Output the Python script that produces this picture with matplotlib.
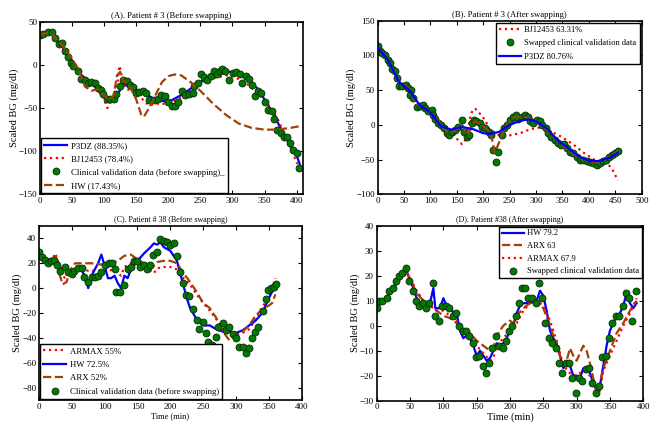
import matplotlib
matplotlib.use("Agg")
import matplotlib.pyplot as plt

plt.rcParams['font.family'] = ['Liberation Serif', 'DejaVu Serif']
plt.rcParams['font.size'] = 7

# ---------------- Panel A: Patient 3 before swapping ----------------
a_data_t = [0, 5, 12, 19, 23, 29, 34, 39, 44, 48, 52, 59, 64, 70, 75, 80, 85, 90, 95, 98,
            104, 109, 115, 119, 124, 129, 136, 140, 145, 150, 155, 161, 166, 170, 177, 184,
            189, 195, 200, 205, 210, 215, 221, 226, 232, 238, 240, 246, 251, 256, 261, 266,
            271, 276, 281, 284, 289, 295, 301, 306, 311, 315, 321, 326, 331, 335, 340, 345,
            350, 355, 361, 365, 370, 376, 381, 385, 390, 395, 400, 404]
a_data_y = [35, 36, 38, 38, 31, 24, 25, 16, 9, 2, -1, -7, -16, -17, -21, -20, -21, -27, -29, -34,
            -39, -39, -40, -34, -24, -18, -19, -23, -26, -33, -31, -30, -32, -41, -41, -40,
            -35, -36, -43, -48, -48, -43, -30, -35, -34, -33, -24, -21, -11, -14, -18, -13,
            -7, -10, -7, -5, -7, -18, -9, -8, -11, -21, -13, -16, -23, -36, -30, -32,
            -43, -52, -53, -63, -75, -79, -83, -84, -90, -99, -102, -119]
a_p3dz_t = [0, 15, 30, 50, 65, 80, 100, 110, 120, 130, 140, 160, 180, 200, 220, 240, 260, 280,
            300, 320, 340, 360, 380, 400, 405]
a_p3dz_y = [35, 38, 26, 5, -12, -22, -34, -41, -35, -23, -25, -32, -40, -43, -35, -25, -15, -8,
            -8, -14, -28, -52, -80, -105, -115]
a_bj_t = [0, 15, 30, 50, 65, 80, 95, 105, 112, 120, 124, 128, 135, 145, 160, 170, 180, 200,
          215, 240, 260, 290, 300, 320, 340, 360, 370, 380, 390, 400, 405]
a_bj_y = [35, 38, 26, 5, -12, -22, -30, -50, -40, -25, -1, -15, -28, -30, -40, -47, -45, -45,
          -40, -27, -17, -12, -13, -20, -33, -50, -62, -78, -95, -113, -118]
a_hw_t = [0, 10, 20, 40, 60, 70, 80, 90, 100, 110, 115, 120, 125, 130, 140, 150, 158, 162,
          170, 180, 190, 200, 210, 220, 235, 250, 270, 290, 310, 330, 350, 370, 390, 405]
a_hw_y = [35, 37, 35, 18, -5, -25, -30, -28, -36, -40, -35, -12, -8, -18, -25, -40, -58, -60,
          -50, -35, -20, -13, -11, -12, -20, -30, -45, -58, -68, -73, -75, -75, -73, -71]

# ---------------- Panel B: Patient 3 after swapping ----------------
b_data_t = [0, 4, 9, 14, 19, 23, 28, 33, 36, 40, 47, 54, 58, 63, 61, 67, 74, 80, 85, 90, 96,
            102, 105, 109, 115, 120, 125, 131, 135, 140, 146, 153, 159, 164, 169, 173, 178,
            183, 187, 194, 198, 203, 210, 214, 219, 224, 228, 235, 240, 244, 251, 257, 262,
            266, 273, 279, 284, 289, 295, 301, 307, 312, 318, 323, 329, 336, 342, 348, 353,
            358, 364, 370, 377, 383, 389, 396, 402, 408, 415, 421, 427, 432, 438, 443, 449, 455]
b_data_y = [113, 107, 104, 101, 93, 89, 80, 77, 67, 56, 56, 57, 53, 50, 43, 38, 26, 27, 29, 24,
            20, 21, 14, 8, 2, 0, -5, -11, -15, -10, -8, -3, 7, -10, -17, -15, 2,
            7, 6, 2, -3, -5, -10, -15, -36, -54, -39, -15, -5, 0, 7, 12, 14,
            9, 12, 14, 12, 6, 3, 7, 5, 0, -5, -12, -17, -22, -26, -29, -27,
            -34, -39, -41, -46, -50, -50, -52, -53, -55, -58, -55, -52, -50, -46, -43, -41, -37]
b_bj_t = [0, 20, 40, 60, 80, 100, 120, 140, 150, 160, 168, 175, 180, 185, 195, 205, 210, 220,
          230, 250, 270, 290, 300, 310, 330, 350, 370, 390, 410, 425, 435, 445, 455]
b_bj_y = [112, 93, 58, 48, 27, 18, 0, -10, -20, -28, -20, 10, 22, 23, 15, 5, -5, -10,
          -15, -15, -12, -6, -5, -3, -10, -18, -28, -40, -50, -52, -55, -65, -80]
b_p3dz_t = [0, 20, 40, 60, 80, 100, 120, 140, 160, 180, 200, 215, 230, 250, 270, 285, 300,
            320, 340, 360, 380, 400, 420, 440, 455]
b_p3dz_y = [112, 93, 62, 50, 28, 18, -2, -7, -3, -6, -12, -13, -10, 0, 6, 8, 5,
            -5, -22, -33, -45, -52, -52, -47, -40]
b_hw_t = [0, 14, 28, 40, 54, 63, 74, 90, 105, 120, 135, 153, 160, 168, 175, 183, 194, 205,
          214, 222, 230, 240, 255, 270, 285, 300, 315, 330, 345, 360, 380, 400, 420, 440, 455]
b_hw_y = [112, 101, 82, 62, 56, 50, 30, 24, 15, 0, -12, -5, 0, -13, -8, 5, 2, -5,
          -12, -40, -25, -5, 10, 12, 10, 4, -3, -16, -27, -36, -47, -53, -54, -45, -38]

# ---------------- Panel C: Patient 38 before swapping ----------------
c_data_t = [0, 4, 9, 14, 18, 23, 28, 32, 39, 44, 50, 53, 60, 65, 69, 74, 80, 85, 90, 94, 101,
            106, 111, 115, 118, 124, 130, 135, 140, 144, 149, 154, 160, 164, 169, 174, 179,
            185, 190, 195, 200, 205, 210, 214, 219, 224, 229, 234, 240, 244, 249, 254, 258,
            263, 270, 273, 280, 285, 290, 295, 300, 305, 310, 315, 320, 324, 329, 334, 341,
            345, 349, 354, 358, 361]
c_data_y = [29, 25, 23, 20, 22, 23, 19, 14, 17, 13, 11, 14, 16, 16, 9, 5, 9, 9, 10, 13, 19,
            20, 20, 15, -3, -3, 2.5, 15, 17, 22, 22, 17, 19, 15, 19, 27, 29,
            39.5, 38, 37, 35, 36, 26, 13, 4, -5.5, -6, -16.5, -26, -33, -27, -36, -43,
            -46, -39, -31.5, -28, -34, -31, -37, -40, -47, -47, -52, -48, -40, -35.5, -31, -18,
            -9, -1.5, 0, 1, 3]
c_hw_t = [0, 10, 20, 25, 30, 35, 40, 50, 60, 65, 70, 75, 80, 85, 90, 95, 100, 105, 110, 115,
          120, 125, 130, 135, 140, 150, 160, 170, 175, 180, 185, 190, 200, 210, 215, 220, 225,
          230, 240, 250, 260, 270, 280, 290, 300, 310, 320, 330, 340, 350, 360]
c_hw_y = [28, 23, 22, 24, 18, 15, 15, 14, 15, 14, 10, 0, 10, 15, 20, 27, 18, 8, 8, 10,
          4, 0, 10, 8, 15, 22, 28, 33, 36, 35, 37, 33, 30, 22, 12, 2, -8,
          -16, -25, -30, -30, -33, -35, -35, -36, -34, -30, -26, -20, -8, 2]
c_armax_t = [0, 10, 20, 25, 30, 35, 40, 45, 55, 60, 65, 75, 85, 95, 105, 115, 120, 125, 130,
             140, 150, 160, 170, 175, 180, 190, 200, 210, 220, 230, 240, 250, 260, 270, 280,
             290, 300, 310, 320, 330, 340, 350, 360]
c_armax_y = [28, 24, 23, 28, 20, 10, 8, 14, 14, 16, 15, 14, 14, 14, 14, 15, 12, 10, 17,
             20, 22, 18, 14, 12, 16, 17, 17, 15, 8, 3, -5, -12, -18, -25, -32,
             -38, -38, -36, -33, -25, -15, -8, 8]
c_arx_t = [0, 10, 20, 27, 32, 36, 42, 48, 55, 65, 80, 95, 110, 120, 130, 140, 150, 160, 170,
           180, 190, 200, 210, 220, 230, 240, 250, 260, 270, 280, 290, 300, 310, 320, 330,
           340, 350, 355, 360]
c_arx_y = [28, 22, 22, 23, 10, 3, 5, 15, 20, 20, 20, 19, 20, 22, 26, 27, 23, 20, 15,
           21, 22, 22, 20, 12, 5, -3, -12, -16, -24, -35, -42, -38, -35, -30, -22,
           -17, -14, -12, -5]

# ---------------- Panel D: Patient 38 after swapping ----------------
d_data_t = [0, 4, 8.5, 15, 19, 25, 29, 34, 38.5, 44, 49, 54, 58.5, 64, 69, 74, 79, 84, 87.5,
            94, 98.5, 104, 109, 114, 119, 124, 129, 134, 139, 144, 148.5, 154, 159, 164, 169,
            173.5, 179, 183.5, 189, 194, 199, 203.5, 208.5, 213.5, 218.5, 222.5, 227.5, 232.5,
            238.5, 243.5, 248.5, 253, 258, 263, 268.5, 273.5, 278.5, 283.5, 288.5, 293.5,
            298.5, 303.5, 308.5, 313.5, 318.5, 322.5, 328.5, 333.5, 338.5, 343.5, 348.5, 353,
            358.5, 363.5, 369, 373.5, 378.5, 383.5, 388.5]
d_data_y = [7, 10, 10, 11, 14, 15, 18, 20, 21, 23, 18, 14, 10, 8, 9, 7, 9, 17, 4,
            2, 8, 8, 7, 4, 5, 0, -2, -2, -4, -7, -12.5, -12, -16, -19, -15,
            -9, -4, -8, -9, -6, -2, 0, 4, 9, 15, 15, 11, 11,
            9, 17, 11, 1, -5, -7, -9, -15, -19, -15, -15, -21,
            -27, -21, -22, -17.5, -17, -23, -27, -24, -12.5, -12, -5, 1,
            4, 4, 8, 13, 11, 2, 14]
d_hw_t = [0, 5, 10, 15, 20, 25, 30, 35, 40, 45, 50, 55, 60, 65, 70, 75, 80, 85, 88, 95, 100,
          105, 110, 115, 120, 125, 130, 135, 140, 145, 150, 155, 160, 165, 170, 175, 180, 185,
          190, 195, 200, 205, 210, 215, 220, 230, 240, 245, 250, 255, 260, 265, 270, 275, 280,
          285, 290, 295, 300, 305, 310, 315, 320, 325, 330, 335, 340, 345, 350, 355, 360, 365,
          370, 375, 380, 385, 390]
d_hw_y = [7, 10, 10, 11, 14, 15, 18, 20, 21, 22, 18, 15, 11, 9, 9, 8, 9, 15, 7, 7, 11,
          8, 8, 5, 5, -2, -5, -4, -5, -8, -12, -10, -12, -14, -13, -10, -7, -8,
          -7, -5, -2, 0, 5, 8, 9, 9, 10, 14, 12, 6, -2, -5, -7, -12, -17,
          -15, -16, -20, -20, -21, -17, -17, -19, -23, -26, -24, -16, -8, -2, 1, 4, 5,
          8, 13, 9, 7, 9]
d_arx_t = [0, 10, 20, 30, 40, 45, 50, 60, 70, 80, 90, 100, 110, 120, 130, 140, 150, 160, 170,
           175, 180, 190, 200, 205, 210, 220, 230, 240, 250, 260, 270, 280, 285, 290, 295,
           300, 305, 310, 315, 320, 325, 330, 335, 340, 350, 360, 370, 380, 390]
d_arx_y = [7, 10, 13, 17, 21, 21, 19, 13, 10, 8, 6, 4, 3, 1, -1, -3, -6, -8, -10,
           -9, -4, 0, 2, 1, 4, 7, 9, 10, 7, 0, -8, -16, -14, -9, -12,
           -14, -11, -8, -10, -15, -21, -27, -23, -17, -10, -3, 1, 6, 10]
d_armax_t = [0, 10, 20, 30, 40, 45, 50, 60, 70, 80, 90, 100, 110, 120, 130, 140, 150, 160,
             170, 175, 180, 190, 200, 210, 220, 230, 240, 250, 260, 270, 280, 290, 300, 310,
             320, 325, 330, 335, 340, 350, 360, 370, 380, 390]
d_armax_y = [7, 10, 13, 17, 20, 21, 19, 14, 10, 8, 6, 6, 4, 2, -2, -4, -8, -11,
             -14, -13, -8, -5, -2, 1, 6, 9, 10, 8, 2, -6, -16, -19, -20, -18,
             -20, -22, -27, -26, -18, -12, -6, 0, 5, 11]

# ---------------- styles ----------------
BLUE = '#0000ff'
RED = '#ff0000'
BROWN = '#a0400a'
GREEN = '#007a00'
LW = 1.6
mk = dict(linestyle='none', marker='o', markersize=5.0, markerfacecolor=GREEN,
          markeredgecolor='#0a2a0a', markeredgewidth=0.6)
LEG = dict(frameon=True, fancybox=False, edgecolor='black', framealpha=1.0,
           handlelength=2.6, handletextpad=0.4)

fig = plt.figure(figsize=(6.55, 4.28), dpi=100)
axA = fig.add_axes([0.0611, 0.546, 0.4015, 0.403])
axB = fig.add_axes([0.5766, 0.546, 0.4031, 0.4056])
axC = fig.add_axes([0.0595, 0.0654, 0.4011, 0.4066])
axD = fig.add_axes([0.5751, 0.0638, 0.4070, 0.4089])


def style(ax, title, title_size=6.2):
    ax.set_title(title, fontsize=title_size, pad=3)
    ax.set_ylabel('Scaled BG (mg/dl)', fontsize=7.5, labelpad=0)
    ax.tick_params(direction='in', top=True, right=True, labelsize=6.5, length=3,
                   width=0.8, pad=2)
    for s in ax.spines.values():
        s.set_linewidth(1.2)


# A
axA.plot(a_p3dz_t, a_p3dz_y, '-', color=BLUE, lw=LW, label='P3DZ (88.35%)')
axA.plot(a_bj_t, a_bj_y, ':', color=RED, lw=LW, label='BJ12453 (78.4%)')
axA.plot(a_data_t, a_data_y, label='Clinical validation data (before swapping)_', **mk)
axA.plot(a_hw_t, a_hw_y, '--', color=BROWN, lw=LW, label='HW (17.43%)')
axA.set_xlim(0, 410)
axA.set_ylim(-150, 50)
axA.set_xticks([0, 50, 100, 150, 200, 250, 300, 350, 400])
axA.set_yticks([-150, -100, -50, 0, 50])
style(axA, '(A). Patient # 3 (Before swapping)')
legA = axA.legend(loc='lower left', fontsize=6.3, borderaxespad=0.1,
                  labelspacing=0.6, borderpad=0.4, **LEG)
legA.get_frame().set_linewidth(1.0)

# B
axB.plot(b_hw_t, b_hw_y, '--', color=BROWN, lw=LW, zorder=3)
l1, = axB.plot(b_bj_t, b_bj_y, ':', color=RED, lw=LW, label='BJ12453 63.31%')
l2, = axB.plot(b_data_t, b_data_y, label='Swapped clinical validation data', zorder=2, **mk)
l3, = axB.plot(b_p3dz_t, b_p3dz_y, '-', color=BLUE, lw=LW, label='P3DZ 80.76%', zorder=4)
axB.set_xlim(0, 500)
axB.set_ylim(-100, 150)
axB.set_xticks([0, 50, 100, 150, 200, 250, 300, 350, 400, 450, 500])
axB.set_yticks([-100, -50, 0, 50, 100, 150])
style(axB, '(B). Patient # 3 (After swapping)')
legB = axB.legend(handles=[l1, l2, l3], loc='upper right', fontsize=6.1,
                  borderaxespad=0.25, labelspacing=0.65, borderpad=0.35, **LEG)
legB.get_frame().set_linewidth(1.0)

# C
axC.plot(c_armax_t, c_armax_y, ':', color=RED, lw=LW, label='ARMAX 55%')
axC.plot(c_hw_t, c_hw_y, '-', color=BLUE, lw=LW, label='HW 72.5%')
axC.plot(c_arx_t, c_arx_y, '--', color=BROWN, lw=LW, label='ARX 52%')
axC.plot(c_data_t, c_data_y, label='Clinical validation data (before swapping)', **mk)
axC.set_xlim(0, 400)
axC.set_ylim(-90, 50)
axC.set_xticks([0, 50, 100, 150, 200, 250, 300, 350, 400])
axC.set_yticks([-80, -60, -40, -20, 0, 20, 40])
style(axC, '(C). Patient # 38 (Before swapping)', title_size=5.7)
axC.set_xlabel('Time (min)', fontsize=6, labelpad=1)
legC = axC.legend(loc='lower left', fontsize=6.3, borderaxespad=0.1,
                  labelspacing=0.6, borderpad=0.4, **LEG)
legC.get_frame().set_linewidth(1.0)

# D
axD.plot(d_hw_t, d_hw_y, '-', color=BLUE, lw=LW, label='HW 79.2')
axD.plot(d_arx_t, d_arx_y, '--', color=BROWN, lw=LW, label='ARX 63')
axD.plot(d_armax_t, d_armax_y, ':', color=RED, lw=LW, label='ARMAX 67.9')
axD.plot(d_data_t, d_data_y, label='Swapped clinical validation data', **mk)
axD.set_xlim(0, 400)
axD.set_ylim(-30, 40)
axD.set_xticks([0, 50, 100, 150, 200, 250, 300, 350, 400])
axD.set_yticks([-30, -20, -10, 0, 10, 20, 30, 40])
style(axD, '(D). Patient #38 (After swapping)', title_size=5.7)
axD.set_xlabel('Time (min)', fontsize=7.5, labelpad=1)
legD = axD.legend(loc='upper right', fontsize=6.1, borderaxespad=0.1,
                  labelspacing=0.55, borderpad=0.35, **LEG)
legD.get_frame().set_linewidth(1.0)

fig.savefig('out.png', dpi=100)
